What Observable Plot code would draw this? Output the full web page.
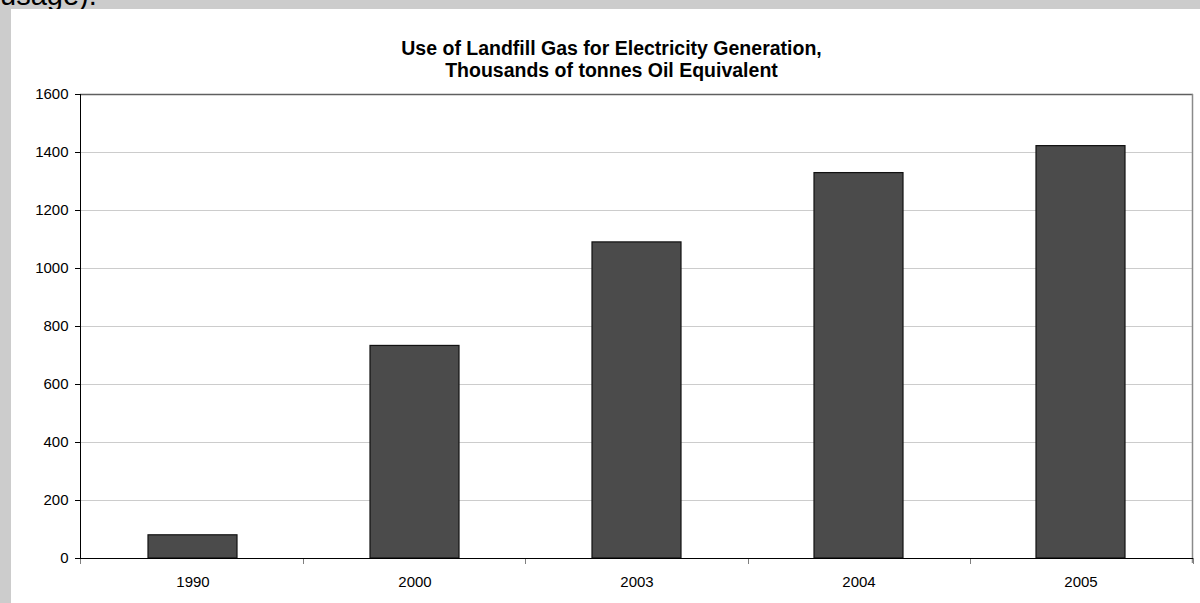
<!DOCTYPE html>
<html>
<head>
<meta charset="utf-8">
<script src="https://cdn.jsdelivr.net/npm/d3@7"></script>
<script src="https://cdn.jsdelivr.net/npm/@observablehq/plot@0.6"></script>
<style>
  html, body { margin: 0; padding: 0; }
  body { width: 1200px; height: 603px; background: #cccccc; position: relative; overflow: hidden;
         font-family: "Liberation Sans", Arial, sans-serif; }
  #above { position: absolute; left: 0; top: -19px; font-size: 29px; line-height: 29px; color: #000; white-space: nowrap; }
  #panel { position: absolute; left: 11px; top: 9px; width: 1189px; height: 594px; background: #fff; overflow: hidden; }
  #title { position: absolute; left: 6px; width: 1189px; top: 29px; text-align: center; font-weight: bold;
           font-size: 19.5px; line-height: 21.5px; color: #000; }
  #chart { position: absolute; left: 0; top: 80px; }
</style>
</head>
<body>
<div id="above">usage).</div>
<div id="panel">
  <div id="title">Use of Landfill Gas for Electricity Generation,<br>Thousands of tonnes Oil Equivalent</div>
  <div id="chart"></div>
</div>
<script>
const years = ["1990", "2000", "2003", "2004", "2005"];
const values = [80, 733, 1090, 1329, 1422];
const yTicks = [0, 200, 400, 600, 800, 1000, 1200, 1400, 1600];

const data = years.map((year, i) => ({year, value: values[i]}));

// plot-area decorations derived from the plot's own dimensions:
// left axis line, right border, and category-boundary ticks below the x axis
function decor(index, scales, values, dims) {
  const {width, height, marginLeft, marginRight, marginTop, marginBottom} = dims;
  const x0 = marginLeft, x1 = width - marginRight;
  const y0 = marginTop, y1 = height - marginBottom;
  const g = d3.create("svg:g");
  g.append("line").attr("x1", x1 - 0.5).attr("x2", x1 - 0.5).attr("y1", y0).attr("y2", y1 + 5)
    .attr("stroke", "#8a8a8a").attr("stroke-width", 1.5);
  const n = years.length;
  for (let k = 0; k <= n; k++) {
    const xx = Math.round(x0 + k * (x1 - x0) / n) + 0.5;
    g.append("line").attr("x1", xx).attr("x2", xx).attr("y1", y1).attr("y2", y1 + 6)
      .attr("stroke", "#808080");
  }
  g.append("line").attr("x1", x0 + 0.5).attr("x2", x0 + 0.5).attr("y1", y0).attr("y2", y1)
    .attr("stroke", "#000");
  return g.node();
}

const chart = Plot.plot({
  width: 1189,
  height: 514,
  marginLeft: 69,
  marginRight: 7,
  marginTop: 5,
  marginBottom: 45,
  style: {fontFamily: "'Liberation Sans', Arial, sans-serif", fontSize: "15px", color: "#000", background: "white", overflow: "visible"},
  x: {domain: years, paddingInner: 0.6, paddingOuter: 0.3, label: null},
  y: {domain: [0, 1600], label: null},
  marks: [
    Plot.ruleY(yTicks.slice(1, -1), {stroke: "#cccccc"}),
    Plot.ruleY([1600], {stroke: "#5f5f5f", strokeWidth: 1.5}),
    Plot.barY(data, {x: "year", y: "value", fill: "#4b4b4b", stroke: "#111", strokeWidth: 1.2}),
    Plot.axisY({ticks: yTicks, tickSize: 5, tickPadding: 7, tickFormat: "d", label: null, fontSize: 15}),
    Plot.axisX({tickSize: 0, tickPadding: 18, label: null, fontSize: 15}),
    decor,
    Plot.ruleY([0], {stroke: "#000"})
  ]
});
document.getElementById("chart").appendChild(chart);
</script>
</body>
</html>
